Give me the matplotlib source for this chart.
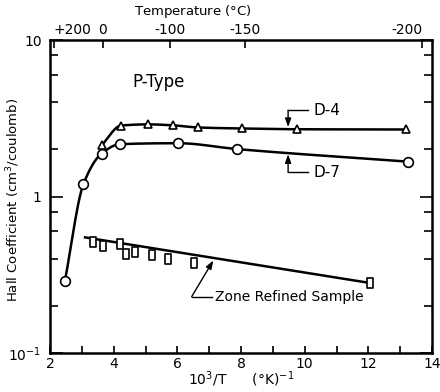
import numpy as np
import matplotlib
matplotlib.use("Agg")
import matplotlib.pyplot as plt
from matplotlib.path import Path

plt.rcParams['font.family'] = ['DejaVu Sans']

# Hall coefficient vs reciprocal temperature (10^3/T)
d7_x = [2.47, 3.05, 3.62, 4.20, 6.03, 7.87, 13.25]
d7_y = [0.29, 1.20, 1.88, 2.16, 2.19, 2.01, 1.67]

d4_x = [3.62, 4.23, 5.09, 5.86, 6.66, 8.03, 9.76, 13.19]
d4_y = [2.12, 2.84, 2.89, 2.85, 2.76, 2.72, 2.69, 2.68]

zone_x = [3.34, 3.65, 4.20, 4.38, 4.67, 5.20, 5.72, 6.53, 12.06]
zone_y = [0.51, 0.48, 0.50, 0.43, 0.44, 0.42, 0.40, 0.376, 0.28]
# fitted straight line (log scale) through the zone refined points
zone_fit_x = [3.10, 12.06]
zone_fit_y = [0.548, 0.28]

temp_c = [200, 0, -100, -150, -200]
temp_labels = ['+200', '0', '-100', '-150', '-200']


def pchip(x, y, xs):
    # monotone cubic hermite, done in log10(y)
    x = np.asarray(x, float)
    y = np.log10(np.asarray(y, float))
    h = np.diff(x)
    d = np.diff(y) / h
    m = np.zeros_like(y)
    for k in range(1, len(x) - 1):
        if d[k - 1] * d[k] > 0:
            w1 = 2 * h[k] + h[k - 1]
            w2 = h[k] + 2 * h[k - 1]
            m[k] = (w1 + w2) / (w1 / d[k - 1] + w2 / d[k])
    m[0] = d[0]
    m[-1] = d[-1]
    out = np.empty_like(xs)
    for i, xv in enumerate(xs):
        k = min(max(np.searchsorted(x, xv) - 1, 0), len(x) - 2)
        t = (xv - x[k]) / h[k]
        h00 = 2 * t**3 - 3 * t**2 + 1
        h10 = t**3 - 2 * t**2 + t
        h01 = -2 * t**3 + 3 * t**2
        h11 = t**3 - t**2
        out[i] = h00 * y[k] + h10 * h[k] * m[k] + h01 * y[k + 1] + h11 * h[k] * m[k + 1]
    return 10 ** out


fig = plt.figure(figsize=(4.4, 3.92), dpi=100)
ax = fig.add_axes([50 / 440, 39 / 392, 382 / 440, 313 / 392])
ax.set_yscale('log')
ax.set_xlim(2, 14)
ax.set_ylim(0.1, 10)

lw = 1.8
xs = np.linspace(d7_x[0], d7_x[-1], 400)
ax.plot(xs, pchip(d7_x, d7_y, xs), color='black', lw=lw, zorder=2)
xs = np.linspace(d4_x[0], d4_x[-1], 400)
ax.plot(xs, pchip(d4_x, d4_y, xs), color='black', lw=lw, zorder=2)
ax.plot(zone_fit_x, zone_fit_y, color='black', lw=lw, zorder=2)

rect = Path([(-0.72, -1), (0.72, -1), (0.72, 1), (-0.72, 1), (-0.72, -1)],
            [Path.MOVETO, Path.LINETO, Path.LINETO, Path.LINETO, Path.CLOSEPOLY])
ax.plot(d7_x, d7_y, 'o', ms=7, mfc='white', mec='black', mew=1.2, zorder=3)
ax.plot(d4_x, d4_y, '^', ms=5.5, mfc='white', mec='black', mew=1.2, zorder=3)
ax.plot(zone_x, zone_y, linestyle='none', marker=rect, ms=6.5, mfc='white',
        mec='black', mew=1.2, zorder=3)

# labels with leader arrows
arw = dict(arrowstyle='-|>,head_length=0.5,head_width=0.18', color='black',
           lw=1.0, shrinkA=0, shrinkB=0)
ax.text(5.42, 5.39, 'P-Type', fontsize=12, ha='center', va='center')

ax.plot([10.12, 9.48], [3.56, 3.56], color='black', lw=1.0)
ax.annotate('', xy=(9.48, 2.78), xytext=(9.48, 3.56), arrowprops=arw)
ax.text(10.28, 3.52, 'D-4', fontsize=11, ha='left', va='center')

ax.plot([10.12, 9.48], [1.43, 1.43], color='black', lw=1.0)
ax.annotate('', xy=(9.48, 1.86), xytext=(9.48, 1.43), arrowprops=arw)
ax.text(10.28, 1.43, 'D-7', fontsize=11, ha='left', va='center')

ax.plot([7.08, 6.45], [0.229, 0.229], color='black', lw=1.0)
ax.annotate('', xy=(7.13, 0.39), xytext=(6.45, 0.229), arrowprops=arw)
ax.text(7.18, 0.229, 'Zone Refined Sample', fontsize=10, ha='left', va='center')

# axes styling
for s in ax.spines.values():
    s.set_linewidth(1.8)
ax.set_xticks(np.arange(2, 15, 2))
ax.set_xticks(np.arange(3, 14, 2), minor=True)
ax.set_yticks([0.1, 1, 10])
ax.set_yticklabels(['10$^{-1}$', '1', '10'])
ax.set_yticks([0.2, 0.4, 0.6, 0.8, 2, 4, 6, 8], minor=True)
ax.yaxis.set_minor_formatter(plt.NullFormatter())
ax.tick_params(which='both', direction='in', right=True, top=False,
               labelsize=10, width=1.2)
ax.tick_params(axis='y', which='major', length=9, pad=6)
ax.tick_params(axis='y', which='minor', length=6)
ax.tick_params(axis='x', which='both', length=5, pad=3)

ax.set_xlabel('10$^3$/T      ($\\degree$K)$^{-1}$', fontsize=10, labelpad=-1)
ax.set_ylabel('Hall Coefficient (cm$^3$/coulomb)', fontsize=9.5)
ax.yaxis.set_label_coords(-0.072, 0.49)

top = ax.twiny()
top.set_xlim(ax.get_xlim())
top.set_xticks([1000.0 / (c + 273) for c in temp_c])
top.set_xticklabels(temp_labels)
top.tick_params(direction='in', length=6, width=1.2, labelsize=10, pad=2)
top.get_xticklabels()[0].set_ha('left')
top.get_xticklabels()[-1].set_ha('right')
for s in top.spines.values():
    s.set_visible(False)
fig.text(193 / 440, 1 - 12 / 392, 'Temperature ($\\degree$C)', fontsize=9.5,
         ha='center', va='center')

fig.savefig('out.png', dpi=100)
